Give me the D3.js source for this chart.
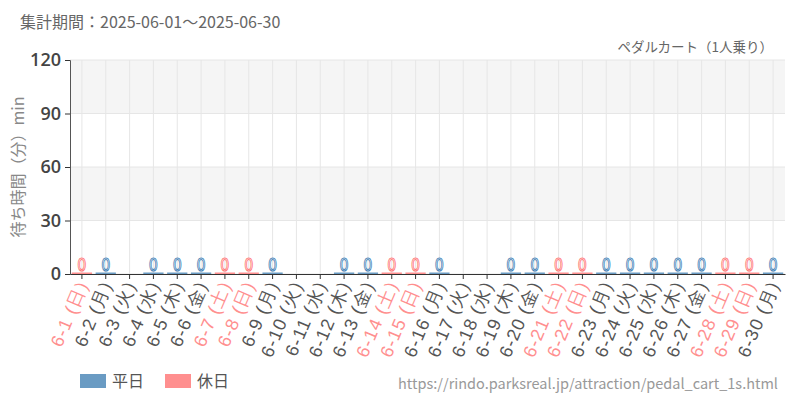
<!DOCTYPE html>
<html>
<head>
<meta charset="utf-8">
<script src="https://cdn.jsdelivr.net/npm/d3@7"></script>
<style>
	body { margin: 0; background: #fff; }
	svg { font-family: "Noto Sans CJK JP", "Noto Sans", sans-serif; }
</style>
</head>
<body>
<svg id="chart"></svg>
<script>
/*
	Data
*/
const days = ['6-1','6-2','6-3','6-4','6-5','6-6','6-7','6-8','6-9','6-10',
	'6-11','6-12','6-13','6-14','6-15','6-16','6-17','6-18','6-19','6-20',
	'6-21','6-22','6-23','6-24','6-25','6-26','6-27','6-28','6-29','6-30']
const weekdays = ['日','月','火','水','木','金','土','日','月','火',
	'水','木','金','土','日','月','火','水','木','金',
	'土','日','月','火','水','木','金','土','日','月']
const holiday = [1,0,0,0,0,0,1,1,0,0, 0,0,0,1,1,0,0,0,0,0, 1,1,0,0,0,0,0,1,1,0]
//null = no data that day
const waits = [0,0,null,0,0,0,0,0,0,null, null,0,0,0,0,0,null,null,0,0, 0,0,0,0,0,0,0,0,0,0]
const yTicks = [0, 30, 60, 90, 120]
const legendItems = ['平日', '休日']

/*
	Drawing constants
*/
const [width, height] = [800, 400]
const margin = {top: 60, right: 15, bottom: 126, left: 70}
const colWeekday = '#6a9bc3', colHoliday = '#ff8f8f'
const lineWeekday = '#4a85b8', lineHoliday = '#ff7a7a'

const svg = d3.select('#chart').attr('width', width).attr('height', height)

const x = d3.scaleBand().domain(days).range([margin.left, width - margin.right]).paddingInner(0.15).paddingOuter(0.075)
const y = d3.scaleLinear().domain([0, 120]).range([height - margin.bottom, margin.top])
const xTick = d => x(d) + x.bandwidth() / 2

//alternating background stripes
const stripes = d3.pairs(yTicks).filter((p, i) => i % 2 === 1)
svg.append('g').selectAll('rect').data(stripes).join('rect')
	.attr('x', margin.left).attr('width', width - margin.right - margin.left)
	.attr('y', p => y(p[1])).attr('height', p => y(p[0]) - y(p[1]))
	.attr('fill', '#f5f5f5')

//grid
svg.append('g').selectAll('line').data(yTicks).join('line')
	.attr('x1', margin.left).attr('x2', width - margin.right)
	.attr('y1', y).attr('y2', y)
	.attr('stroke', '#e6e6e6')
svg.append('g').selectAll('line').data(days).join('line')
	.attr('x1', xTick).attr('x2', xTick)
	.attr('y1', y(120)).attr('y2', y(0))
	.attr('stroke', '#e6e6e6')

//bars, values are 0 so give them a visible minimum height
const present = days.map((d, i) => ({day: d, v: waits[i], hol: holiday[i]})).filter(d => d.v !== null)
svg.append('g').selectAll('rect').data(present).join('rect')
	.attr('x', d => x(d.day)).attr('width', x.bandwidth())
	.attr('y', d => Math.min(y(d.v), y(0) - 1.5))
	.attr('height', d => Math.max(y(0) - y(d.v), 1.5))
	.attr('fill', d => d.hol ? colHoliday : colWeekday)

//value labels: tall narrow hollow digits
svg.append('g').selectAll('text').data(present).join('text')
	.attr('transform', d => `translate(${xTick(d.day)},${y(d.v) - 3}) scale(0.8,1)`)
	.attr('text-anchor', 'middle')
	.attr('font-size', 18)
	.attr('font-family', '"DejaVu Sans", "Noto Sans", sans-serif')
	.attr('fill', '#fff')
	.attr('stroke', d => d.hol ? lineHoliday : lineWeekday)
	.attr('stroke-width', 1)
	.text(d => d.v)

//axes
const yAxis = svg.append('g').attr('transform', `translate(${margin.left},0)`)
	.call(d3.axisLeft(y).tickValues(yTicks).tickSize(5).tickPadding(4))
yAxis.select('.domain').attr('stroke', '#555')
yAxis.selectAll('.tick line').attr('stroke', '#333')
yAxis.selectAll('text').attr('font-size', 18).attr('font-weight', 600).attr('fill', '#444')
	.attr('font-family', '"Open Sans", "Noto Sans", sans-serif')

const xAxis = svg.append('g').attr('transform', `translate(0,${y(0)})`)
	.call(d3.axisBottom(x).tickSize(5).tickSizeOuter(0).tickFormat((d, i) => `${d} (${weekdays[i]})`))
xAxis.select('.domain').attr('stroke', '#333')
xAxis.selectAll('.tick line').attr('stroke', '#333')
xAxis.selectAll('text')
	.attr('font-size', 18)
	.attr('font-weight', 500)
	.attr('letter-spacing', 1.2)
	.attr('fill', (d, i) => holiday[i] ? colHoliday : '#555')
	.attr('text-anchor', 'end')
	.attr('dy', '0.35em')
	.attr('transform', 'translate(1,8) rotate(-67)')
	.attr('x', 0).attr('y', 0)

//titles
svg.append('text').attr('x', 20).attr('y', 28)
	.attr('font-size', 16).attr('fill', '#666')
	.text('集計期間：2025-06-01〜2025-06-30')
svg.append('text').attr('x', 773).attr('y', 52)
	.attr('text-anchor', 'end').attr('font-size', 13.5).attr('fill', '#666')
	.text('ペダルカート（1人乗り）')
svg.append('text')
	.attr('transform', `translate(24,${(y(0) + y(120)) / 2}) rotate(-90)`)
	.attr('text-anchor', 'middle').attr('font-size', 16).attr('fill', '#888')
	.text('待ち時間（分）min')

//legend
const legend = svg.append('g').selectAll('g').data(legendItems).join('g')
	.attr('transform', (d, i) => `translate(80,374) translate(${i * 85},0)`)
legend.append('rect').attr('width', 26).attr('height', 14)
	.attr('fill', (d, i) => i ? colHoliday : colWeekday)
legend.append('text').attr('x', 32).attr('y', 13)
	.attr('font-size', 16).attr('fill', '#555').text(d => d)

svg.append('text').attr('x', 778).attr('y', 389)
	.attr('text-anchor', 'end').attr('font-size', 14.5).attr('fill', '#999')
	.text('https://rindo.parksreal.jp/attraction/pedal_cart_1s.html')
</script>
</body>
</html>
